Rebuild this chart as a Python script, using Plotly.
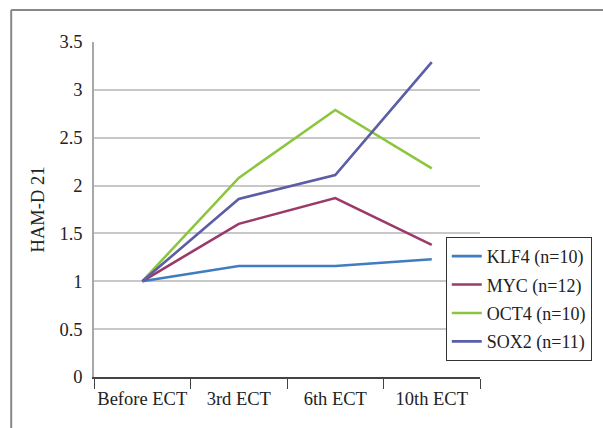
import plotly.graph_objects as go

# Mean HAM-D 21 ratio over the course of ECT, by gene group
sessions = ["Before ECT", "3rd ECT", "6th ECT", "10th ECT"]
klf4 = [1.0, 1.16, 1.16, 1.23]
myc = [1.0, 1.60, 1.87, 1.38]
oct4 = [1.0, 2.08, 2.79, 2.18]
sox2 = [1.0, 1.86, 2.11, 3.29]

series = [
    ("KLF4 (n=10)", klf4, "#3f7cc0"),
    ("MYC (n=12)", myc, "#9a3a6a"),
    ("OCT4 (n=10)", oct4, "#8cc63f"),
    ("SOX2 (n=11)", sox2, "#5b5ea6"),
]

FONT = "Liberation Serif, Times New Roman, serif"
TXT = "#222222"

fig = go.Figure()
for i, (name, vals, color) in enumerate(series):
    fig.add_trace(go.Scatter(
        x=sessions, y=vals, name=name, mode="lines",
        line=dict(color=color, width=2.6),
        legendgroup=f"g{i}",
    ))

fig.update_layout(
    width=603, height=428,
    margin=dict(l=94, r=122, t=42, b=51),
    paper_bgcolor="white", plot_bgcolor="white",
    font=dict(family=FONT, size=18.5, color=TXT),
    showlegend=True,
    legend=dict(
        x=0.909, y=0.418, xanchor="left", yanchor="top",
        bgcolor="white", bordercolor="#333333", borderwidth=1,
        font=dict(family=FONT, size=18, color=TXT),
        traceorder="grouped", tracegroupgap=2,
    ),
    xaxis=dict(
        type="category", range=[-0.5, 3.5],
        showgrid=False, zeroline=False, automargin=False,
        showline=True, linecolor="#444444", linewidth=1.5,
        ticks="outside", tickson="boundaries", ticklen=10,
        tickcolor="#444444", tickwidth=1.2, tickangle=0,
        ticklabelstandoff=4,
        tickfont=dict(family=FONT, size=18.5, color=TXT),
    ),
    yaxis=dict(
        range=[0, 3.5], automargin=False,
        tickvals=[0, 0.5, 1, 1.5, 2, 2.5, 3, 3.5],
        ticktext=["0", "0.5", "1", "1.5", "2", "2.5", "3", "3.5"],
        showgrid=True, gridcolor="#c8c8c8", gridwidth=1.6,
        zeroline=False,
        showline=True, linecolor="#a8a8a8", linewidth=1.5,
        ticks="", ticklabelstandoff=6,
        tickfont=dict(family=FONT, size=18.5, color=TXT),
        title=dict(text="HAM-D 21", standoff=10,
                   font=dict(family=FONT, size=18.5, color=TXT)),
    ),
)

# Outer frame (top and left edges visible)
fig.add_shape(type="line", xref="paper", yref="paper",
              x0=-0.2145, x1=1.4, y0=1.0955, y1=1.0955,
              line=dict(color="#888888", width=2))
fig.add_shape(type="line", xref="paper", yref="paper",
              x0=-0.2145, x1=-0.2145, y0=1.0955, y1=-0.3,
              line=dict(color="#888888", width=2))

fig.write_html("out.html")
